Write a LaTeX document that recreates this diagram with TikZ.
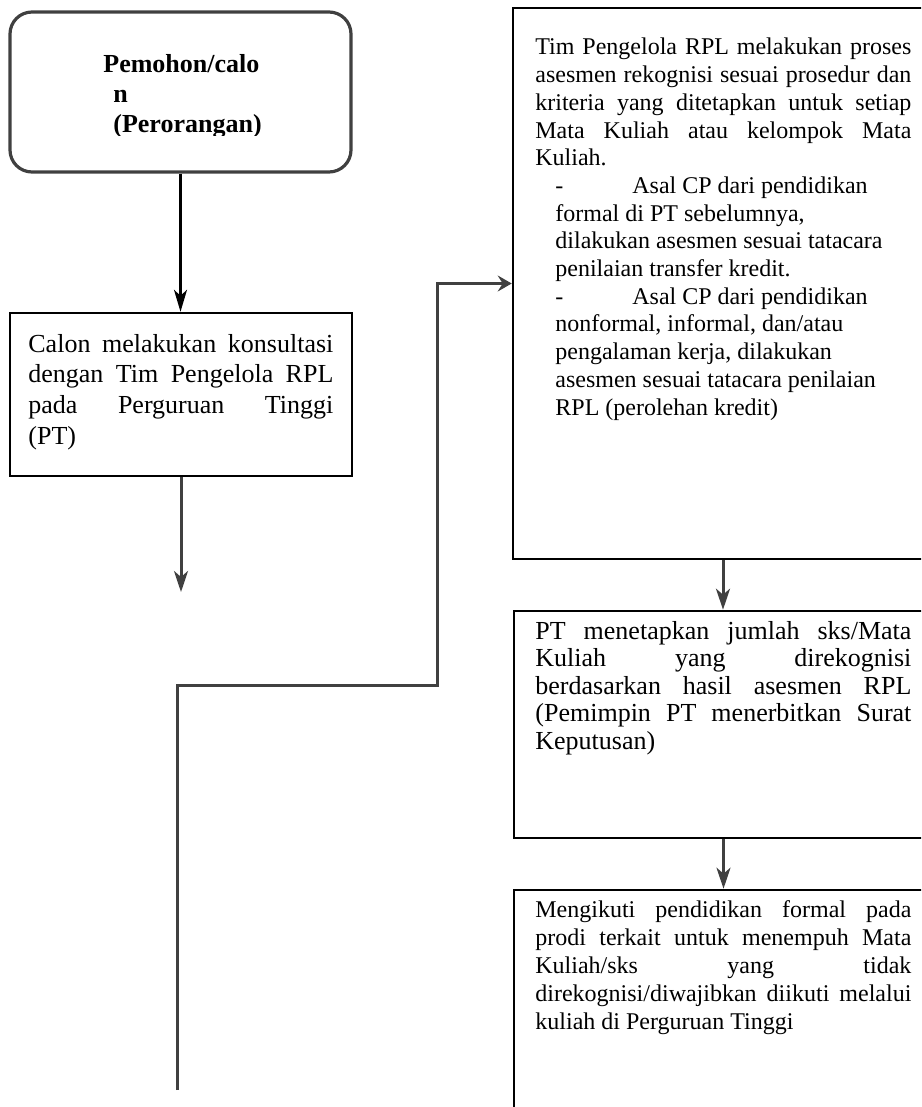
\documentclass[tikz,border=0pt]{standalone}
\usepackage{fontspec}
\setmainfont{Liberation Serif}
\usetikzlibrary{arrows.meta,positioning}
\definecolor{lngray}{HTML}{404040}
\tikzset{>={Stealth[length=10.5pt,width=7pt,inset=3pt]}}
\tikzset{box/.style={draw=black,line width=1.3pt,rectangle,inner sep=0pt}}
\tikzset{txt/.style={inner sep=0pt,anchor=base west}}
\tikzset{flow/.style={draw=lngray,line width=1.5pt,->}}
\newcommand{\jline}[1]{\makebox[\linewidth][s]{#1}\\}

\begin{document}
\begin{tikzpicture}[x=0.5pt,y=-0.5pt]
  \clip (0,0) rectangle (921,1107);

  % Boxes
  \node[box,draw=lngray,line width=1.6pt,rounded corners=11pt,minimum width=170.5pt,minimum height=80pt] (b1) at (180.5,92) {};
  \node[box,line width=1.2pt,minimum width=171pt,minimum height=81.5pt] (b2) at (181,394.5) {};
  \node[box,minimum width=210pt,minimum height=275.5pt] (b3) at (723,283.5) {};
  \node[box,minimum width=209.5pt,minimum height=113.5pt] (b4) at (723.5,724.5) {};
  \node[box,minimum width=209.5pt,minimum height=125pt] (b5) at (723.5,1015) {};
  \coordinate (e2) at (181,592);
  \coordinate (lo) at (177,1090);
  \coordinate (turn) at (437,685);

  % Lines
  \draw[->,line width=1.2pt,>={Stealth[length=11pt,width=6.5pt,inset=3pt]}] (b1.south) -- (b1.south |- b2.north);
  \draw[flow] (b2.south) -- (e2);
  \draw[flow,>={Stealth[length=7pt,width=8pt,inset=2.5pt]}] (lo) |- (turn) |- (b3.west);
  \draw[flow] (b3.south) -- (b3.south |- b4.north);
  \draw[flow] (b4.south) -- (b4.south |- b5.north);

  % Labels
  \begin{scope}
    \clip (0,0) rectangle (921,136);
    \node[txt,font=\fontsize{13pt}{15pt}\selectfont\bfseries] (l1) at (103,73) {\parbox[t]{120pt}{Pemohon/calo\\\hspace*{5pt}n\\\hspace*{5pt}(Perorangan)}};
  \end{scope}
  \node[txt,font=\fontsize{13pt}{15.4pt}\selectfont] (l2) at (28,352) {\parbox[t]{152.5pt}{%
    \jline{Calon melakukan konsultasi}\jline{dengan Tim Pengelola RPL}\jline{pada Perguruan Tinggi}(PT)}};
  \node[txt,font=\fontsize{12pt}{13.85pt}\selectfont] (l3) at (535,55) {\parbox[t]{188pt}{%
    \jline{Tim Pengelola RPL melakukan proses}
    \jline{asesmen rekognisi sesuai prosedur dan}
    \jline{kriteria yang ditetapkan untuk setiap}
    \jline{Mata Kuliah atau kelompok Mata}
    Kuliah.\\
    \makebox[48.5pt][l]{\hspace*{10pt}-}Asal CP dari pendidikan\\
    \hspace*{10pt}formal di PT sebelumnya,\\
    \hspace*{10pt}dilakukan asesmen sesuai tatacara\\
    \hspace*{10pt}penilaian transfer kredit.\\
    \makebox[48.5pt][l]{\hspace*{10pt}-}Asal CP dari pendidikan\\
    \hspace*{10pt}nonformal, informal, dan/atau\\
    \hspace*{10pt}pengalaman kerja, dilakukan\\
    \hspace*{10pt}asesmen sesuai tatacara penilaian\\
    \hspace*{10pt}RPL (perolehan kredit)}};
  \node[txt,font=\fontsize{13pt}{13.75pt}\selectfont] (l4) at (535,639) {\parbox[t]{188pt}{%
    \jline{PT menetapkan jumlah sks/Mata}
    \jline{Kuliah yang direkognisi}
    \jline{berdasarkan hasil asesmen RPL}
    \jline{(Pemimpin PT menerbitkan Surat}
    Keputusan)}};
  \node[txt,font=\fontsize{12pt}{14.1pt}\selectfont] (l5) at (535,917) {\parbox[t]{188pt}{%
    \jline{Mengikuti pendidikan formal pada}
    \jline{prodi terkait untuk menempuh Mata}
    \jline{Kuliah/sks yang tidak}
    \jline{direkognisi/diwajibkan diikuti melalui}
    kuliah di Perguruan Tinggi}};
\end{tikzpicture}
\end{document}
